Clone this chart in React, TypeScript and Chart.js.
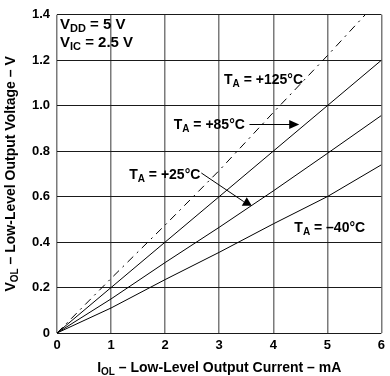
import React, { useEffect, useRef } from "react";
import { Chart, registerables } from "chart.js";

Chart.register(...registerables);

// Data (I_OL in mA, V_OL in V)
const currentMA = [0, 1, 2, 3, 4, 5, 6];
const current125 = [0, 1, 2, 3, 4, 5, 5.7];
const vol125 = [0, 0.24, 0.475, 0.715, 0.97, 1.22, 1.4];
const vol85 = [0, 0.2, 0.4, 0.6, 0.8, 1.0, 1.2];
const vol25 = [0, 0.15, 0.31, 0.465, 0.625, 0.79, 0.957];
const volM40 = [0, 0.11, 0.235, 0.355, 0.48, 0.6, 0.74];
const xTicks = [0, 1, 2, 3, 4, 5, 6];
const yTicks = [0, 0.2, 0.4, 0.6, 0.8, 1.0, 1.2, 1.4];

const FONT = "'Liberation Sans', Arial, Helvetica, sans-serif";

type Seg = { t: string; sub?: boolean };

function segWidth(ctx: CanvasRenderingContext2D, segs: Seg[], size: number, subSize: number) {
  let w = 0;
  for (const s of segs) {
    ctx.font = `bold ${s.sub ? subSize : size}px ${FONT}`;
    w += ctx.measureText(s.t).width;
  }
  return w;
}

function drawRich(
  ctx: CanvasRenderingContext2D,
  segs: Seg[],
  x: number,
  y: number,
  size = 14,
  subSize = 10
) {
  ctx.textBaseline = "middle";
  ctx.textAlign = "left";
  ctx.fillStyle = "#000";
  let cx = x;
  for (const s of segs) {
    ctx.font = `bold ${s.sub ? subSize : size}px ${FONT}`;
    ctx.fillText(s.t, cx, s.sub ? y + 4 : y);
    cx += ctx.measureText(s.t).width;
  }
}

const labels: { segs: Seg[]; x: number; y: number; size: number; sub: number }[] = [
  { segs: [{ t: "V" }, { t: "DD", sub: true }, { t: " = 5 V" }], x: 0.055, y: 1.357, size: 15, sub: 11 },
  { segs: [{ t: "V" }, { t: "IC", sub: true }, { t: " = 2.5 V" }], x: 0.055, y: 1.278, size: 15, sub: 11 },
  { segs: [{ t: "T" }, { t: "A", sub: true }, { t: " = +125°C" }], x: 3.09, y: 1.114, size: 14, sub: 10 },
  { segs: [{ t: "T" }, { t: "A", sub: true }, { t: " = +85°C" }], x: 2.158, y: 0.913, size: 14, sub: 10 },
  { segs: [{ t: "T" }, { t: "A", sub: true }, { t: " = +25°C" }], x: 1.335, y: 0.696, size: 14, sub: 10 },
  { segs: [{ t: "T" }, { t: "A", sub: true }, { t: " = –40°C" }], x: 4.39, y: 0.461, size: 14, sub: 10 },
];

const annotationPlugin = {
  id: "annotations",
  afterDraw(chart: any) {
    const ctx: CanvasRenderingContext2D = chart.ctx;
    const xs = chart.scales.x;
    const ys = chart.scales.y;
    const px = (v: number) => xs.getPixelForValue(v);
    const py = (v: number) => ys.getPixelForValue(v);
    ctx.save();
    for (const l of labels) drawRich(ctx, l.segs, px(l.x), py(l.y), l.size, l.sub);

    // arrow for +85°C
    ctx.strokeStyle = "#000";
    ctx.fillStyle = "#000";
    ctx.lineWidth = 1;
    const ay = Math.round(py(0.918)) + 0.5;
    const ax0 = px(3.56);
    const ax1 = px(4.48);
    ctx.beginPath();
    ctx.moveTo(ax0, ay);
    ctx.lineTo(ax1 - 8, ay);
    ctx.stroke();
    ctx.beginPath();
    ctx.moveTo(ax1, ay);
    ctx.lineTo(ax1 - 10, ay - 4.5);
    ctx.lineTo(ax1 - 10, ay + 4.5);
    ctx.closePath();
    ctx.fill();

    // arrow for +25°C
    const bx0 = px(2.67);
    const by0 = py(0.704);
    const tx = px(3.51);
    const ty = py(0.578);
    ctx.beginPath();
    ctx.moveTo(bx0, by0);
    ctx.lineTo(tx - 3, ty);
    ctx.stroke();
    ctx.beginPath();
    ctx.moveTo(tx, ty - 4.5);
    ctx.lineTo(tx - 5, ty + 4);
    ctx.lineTo(tx + 5, ty + 4);
    ctx.closePath();
    ctx.fill();

    // axis titles
    const area = chart.chartArea;
    const ySegs: Seg[] = [{ t: "V" }, { t: "OL", sub: true }, { t: " – Low-Level Output Voltage – V" }];
    const yw = segWidth(ctx, ySegs, 14, 10);
    ctx.save();
    ctx.translate(11, (area.top + area.bottom) / 2);
    ctx.rotate(-Math.PI / 2);
    drawRich(ctx, ySegs, -yw / 2, 0, 14, 10);
    ctx.restore();

    const xSegs: Seg[] = [{ t: "I" }, { t: "OL", sub: true }, { t: " – Low-Level Output Current – mA" }];
    const xw = segWidth(ctx, xSegs, 14, 10);
    drawRich(ctx, xSegs, (area.left + area.right) / 2 - xw / 2, 368, 14, 10);
    ctx.restore();
  },
};

const toPts = (xs: number[], ys: number[]) => xs.map((x, i) => ({ x, y: ys[i] }));

export default function App() {
  const ref = useRef<HTMLCanvasElement | null>(null);
  useEffect(() => {
    document.body.style.margin = "0";
    const canvas = ref.current!;
    const common = { borderColor: "#000", borderWidth: 1, pointRadius: 0, fill: false, tension: 0 };
    const chart = new Chart(canvas, {
      type: "line",
      data: {
        datasets: [
          { ...common, label: "+125°C", data: toPts(current125, vol125), borderDash: [8, 5, 2, 5] },
          { ...common, label: "+85°C", data: toPts(currentMA, vol85) },
          { ...common, label: "+25°C", data: toPts(currentMA, vol25) },
          { ...common, label: "-40°C", data: toPts(currentMA, volM40) },
        ],
      },
      options: {
        animation: false,
        responsive: false,
        maintainAspectRatio: false,
        layout: { padding: { top: 5, right: 5, left: 0, bottom: 0 } },
        plugins: { legend: { display: false }, tooltip: { enabled: false } },
        scales: {
          x: {
            type: "linear",
            min: 0,
            max: 6,
            afterFit: (s: any) => {
              s.height = 43;
            },
            afterBuildTicks: (s: any) => {
              s.ticks = xTicks.map((v) => ({ value: v }));
            },
            ticks: {
              color: "#000",
              padding: 5,
              font: { family: FONT, size: 13, weight: "bold" },
              callback: (v: any) => String(v),
            },
            grid: { color: "#7a7a7a", lineWidth: 1.5, drawTicks: false },
            border: { display: false },
          },
          y: {
            type: "linear",
            min: 0,
            max: 1.4,
            afterFit: (s: any) => {
              s.width = 57;
            },
            afterBuildTicks: (s: any) => {
              s.ticks = yTicks.map((v) => ({ value: v }));
            },
            ticks: {
              color: "#000",
              padding: 7,
              font: { family: FONT, size: 13, weight: "bold" },
              callback: (v: any) => (Number(v) === 0 ? "0" : Number(v).toFixed(1)),
            },
            grid: { color: "#1a1a1a", lineWidth: 1, drawTicks: false },
            border: { display: false },
          },
        },
      },
      plugins: [annotationPlugin],
    } as any);
    return () => chart.destroy();
  }, []);
  return (
    <div style={{ width: 390, height: 376, position: "relative" }}>
      <canvas ref={ref} width={390} height={376} style={{ display: "block" }} />
    </div>
  );
}
